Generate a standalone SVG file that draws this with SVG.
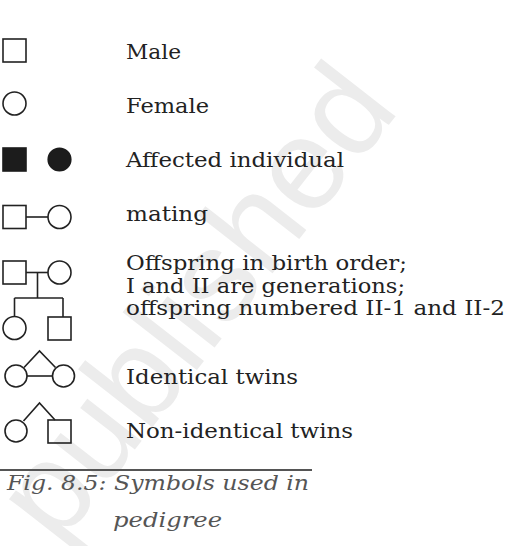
<svg xmlns="http://www.w3.org/2000/svg" width="521" height="546" viewBox="0 0 521 546">
<style>
.s{fill:none;stroke:#222;stroke-width:1.6}
.f{fill:#1c1c1c;stroke:#1c1c1c;stroke-width:1.6}
.l{font-family:"DejaVu Serif","Liberation Serif",serif;font-size:20px;fill:#222}
.c{font-family:"DejaVu Serif","Liberation Serif",serif;font-style:italic;font-size:21px;fill:#555}
.wm{font-family:"Liberation Sans",Arial,sans-serif;font-size:130px;fill:#ececec}
</style>
<rect width="521" height="546" fill="#fff"/>
<text class="wm" transform="translate(58,548) rotate(-52)">published</text>
<g id="male"><rect class="s" x="3" y="39" width="23" height="23"/></g>
<g id="female"><circle class="s" cx="14.5" cy="103.5" r="11.5"/></g>
<g id="affected"><rect class="f" x="3" y="148" width="23" height="23"/><circle class="f" cx="59.5" cy="159.5" r="11.3"/></g>
<g id="mating"><rect class="s" x="3" y="205.5" width="23" height="23"/><circle class="s" cx="59.5" cy="217" r="11.5"/></g>
<g id="offspring"><rect class="s" x="3" y="261" width="23" height="23"/><circle class="s" cx="59.5" cy="272.5" r="11.5"/><circle class="s" cx="14.5" cy="328" r="11.5"/><rect class="s" x="48" y="317" width="23" height="23"/></g>
<g id="identical"><circle class="s" cx="16" cy="376" r="11"/><circle class="s" cx="63.5" cy="376" r="11"/></g>
<g id="nonidentical"><circle class="s" cx="16" cy="431" r="11"/><rect class="s" x="48" y="420" width="23" height="23"/></g>
<g id="connectors" class="s">
<line x1="26" y1="217" x2="48" y2="217"/>
<line x1="26" y1="272.5" x2="48" y2="272.5"/>
<line x1="37.5" y1="272.5" x2="37.5" y2="298"/>
<line x1="14.5" y1="298" x2="63" y2="298"/>
<line x1="14.5" y1="298" x2="14.5" y2="316.5"/>
<line x1="63" y1="298" x2="63" y2="317"/>
<polyline points="24,367.5 39.5,351 55.5,367.5"/>
<line x1="27" y1="376" x2="52.5" y2="376"/>
<polyline points="23.5,421 39.5,403 55,420"/>
</g>
<g id="labels">
<text class="l" x="126" y="59" textLength="55" lengthAdjust="spacingAndGlyphs">Male</text>
<text class="l" x="126" y="113" textLength="83" lengthAdjust="spacingAndGlyphs">Female</text>
<text class="l" x="126" y="167" textLength="218" lengthAdjust="spacingAndGlyphs">Affected individual</text>
<text class="l" x="126" y="221" textLength="82" lengthAdjust="spacingAndGlyphs">mating</text>
<text class="l" x="126" y="270" textLength="281" lengthAdjust="spacingAndGlyphs">Offspring in birth order;</text>
<text class="l" x="126" y="293" textLength="279" lengthAdjust="spacingAndGlyphs">I and II are generations;</text>
<text class="l" x="126" y="315" textLength="379" lengthAdjust="spacingAndGlyphs">offspring numbered II-1 and II-2</text>
<text class="l" x="126" y="384" textLength="172" lengthAdjust="spacingAndGlyphs">Identical twins</text>
<text class="l" x="126" y="438" textLength="227" lengthAdjust="spacingAndGlyphs">Non-identical twins</text>
</g>
<line x1="0" y1="470" x2="312" y2="470" stroke="#555" stroke-width="2"/>
<g id="caption">
<text class="c" x="7" y="490" textLength="302" lengthAdjust="spacingAndGlyphs">Fig. 8.5: Symbols used in</text>
<text class="c" x="113" y="527" textLength="109" lengthAdjust="spacingAndGlyphs">pedigree</text>
</g>
</svg>
